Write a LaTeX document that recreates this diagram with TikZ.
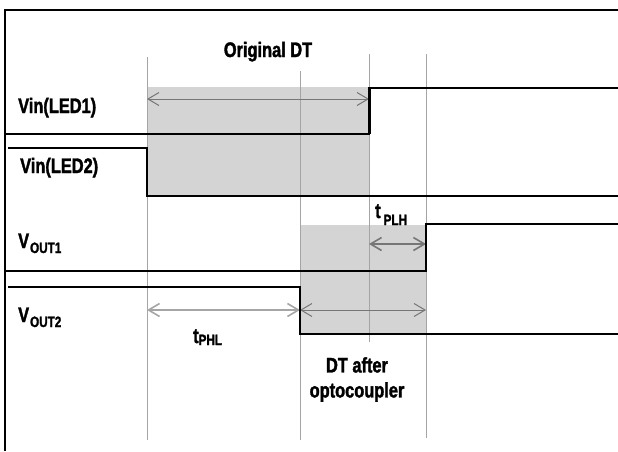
\documentclass[tikz,border=0pt]{standalone}
\usepackage{fontspec}
\setmainfont{Liberation Sans}[FakeStretch=0.78, BoldFeatures={FakeBold=1.6}]
\usetikzlibrary{arrows.meta, positioning}
\definecolor{shadegray}{RGB}{212,212,212}
\definecolor{gridgray}{RGB}{165,165,165}
\definecolor{dimgray}{RGB}{118,118,118}
\newcommand{\lowsub}[2]{\raisebox{-#1}{\fontsize{15}{15}\selectfont #2}}

\begin{document}
\begin{tikzpicture}[
    x=1pt, y=-1pt,
    lbl/.style={font=\fontsize{21}{25}\selectfont\bfseries, inner sep=0pt},
    sig/.style={draw=black, line width=2pt},
    gridln/.style={draw=gridgray, line width=0.9pt},
    dimarr/.style={draw=dimgray, line width=1pt, <->, >={Straight Barb[length=11pt,width=13pt]}},
    shade/.style={fill=shadegray}
]
\useasboundingbox (0,0) rectangle (618,451);
% frame
\draw[line width=1.3pt] (5,451) -- (5,10) -- (618,10);
% dead time areas
\fill[shade] (147,87) rectangle (369,195);
\fill[shade] (300,225) rectangle (426,334);
% time marks
\draw[gridln] (147,57) -- (147,440);
\draw[gridln] (300,71) -- (300,440);
\draw[gridln] (369,54) -- (369,342);
\draw[gridln] (426,54) -- (426,438);
% dimension ends
\coordinate (od-l) at (147,99);
\coordinate (od-r) at (369,99);
\coordinate (plh-l) at (369,244);
\coordinate (plh-r) at (426,244);
\coordinate (phl-l) at (147,310);
\coordinate (phl-r) at (300,310);
\coordinate (dt-l) at (300,310);
\coordinate (dt-r) at (426,310);
\draw[dimarr] (od-l) -- (od-r);
\draw[dimarr, line width=1.6pt] (plh-l) -- (plh-r);
\draw[dimarr, line width=1.6pt, draw=gridgray] (phl-l) -- (phl-r);
\draw[dimarr] (dt-l) -- (dt-r);
% signals
\draw[sig] (5,134) -- (369,134) -- (369,88) -- (618,88);
\draw[sig, line width=3pt] (369,134) -- (369,88);
\draw[sig] (8,148) -- (147,148) -- (147,195.5) -- (618,195.5);
\draw[sig] (5,271) -- (426,271) -- (426,224) -- (618,224);
\draw[sig] (8,287) -- (300,287) -- (300,334) -- (618,334);
% labels
\node[lbl, anchor=base] (origdt) at (268,57) {Original DT};
\node[lbl, anchor=base west] (led1) at (18,113) {Vin(LED1)};
\node[lbl, anchor=base west] (led2) at (20,173) {Vin(LED2)};
\node[lbl, anchor=base west] (vout1) at (18,248) {V\kern1pt\lowsub{5pt}{OUT1}};
\node[lbl, anchor=base west] (vout2) at (18,322) {V\kern1pt\lowsub{5pt}{OUT2}};
\node[lbl, anchor=base west] (tplh) at (375,218) {t\kern3pt\lowsub{7pt}{PLH}};
\node[lbl, anchor=base west] (tphl) at (193,343) {t\lowsub{2pt}{PHL}};
\node[lbl, align=center] (dtafter) at (357,379.5) {DT after\\optocoupler};
\end{tikzpicture}
\end{document}
